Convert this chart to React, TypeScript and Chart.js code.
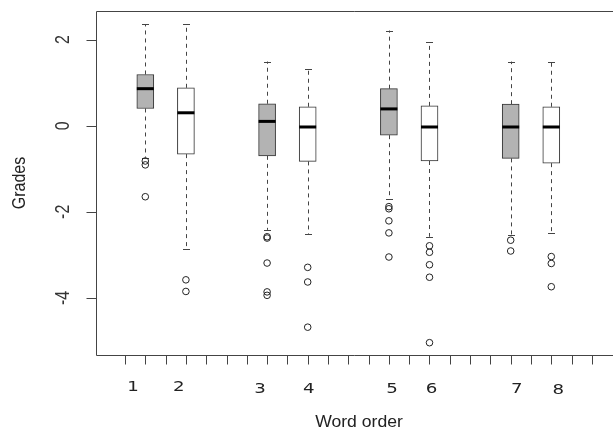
import React, { useEffect, useRef } from "react";
import { Chart, registerables } from "chart.js";

Chart.register(...registerables);

// ---- data ----
const xTickLabels = ["1", "2", "3", "4", "5", "6", "7", "8"];
const boxAt = [1, 3, 7, 9, 13, 15, 19, 21];
const whiskerHigh = [2.355, 2.355, 1.49, 1.32, 2.21, 1.94, 1.49, 1.49];
const upperQuartile = [1.19, 0.88, 0.51, 0.44, 0.86, 0.46, 0.5, 0.44];
const medians = [0.86, 0.3, 0.1, -0.03, 0.39, -0.03, -0.03, -0.03];
const lowerQuartile = [0.4, -0.66, -0.7, -0.83, -0.22, -0.82, -0.76, -0.87];
const whiskerLow = [-0.74, -2.87, -2.42, -2.52, -1.7, -2.58, -2.54, -2.5];
const outliers = [
  [-0.82, -0.91, -1.65],
  [-3.58, -3.85],
  [-2.58, -2.61, -3.19, -3.86, -3.94],
  [-3.29, -3.63, -4.68],
  [-1.88, -1.93, -2.21, -2.49, -3.05],
  [-2.79, -2.94, -3.23, -3.52, -5.04],
  [-2.66, -2.91],
  [-3.04, -3.2, -3.74],
];
const shaded = [true, false, true, false, true, false, true, false];
const yTicks = [2, 0, -2, -4];
const yTickLabels = ["2", "0", "-2", "-4"];
const xTickCount = 24;
const xTitle = "Word order";
const yTitle = "Grades";

// ---- layout / style config ----
const labelPlacement = {
  at: [0.4, 2.65, 6.65, 9.05, 13.15, 15.1, 19.3, 21.35],
  dy: [32, 32, 34, 34, 34, 34, 34, 35],
};
const BOX_W = 17;
const CAP_W = 7;
const INK = "#333";

function stretchedText(
  ctx: CanvasRenderingContext2D,
  text: string,
  cx: number,
  cy: number,
  font: string,
  sx: number,
  rot: number,
  color: string
) {
  ctx.save();
  ctx.translate(cx, cy);
  ctx.scale(sx, 1);
  if (rot) ctx.rotate(rot);
  ctx.font = font;
  ctx.fillStyle = color;
  ctx.textAlign = "center";
  ctx.textBaseline = "middle";
  ctx.fillText(text, 0, 0);
  ctx.restore();
}

const boxDecor = {
  id: "boxDecor",
  beforeDatasetsDraw(chart: any) {
    const { ctx, scales } = chart;
    const x = scales.x;
    const y = scales.y;
    ctx.save();
    ctx.strokeStyle = "#444";
    ctx.lineWidth = 1;
    boxAt.forEach((b, i) => {
      const px = Math.round(x.getPixelForValue(b)) + 0.5;
      ctx.setLineDash([4, 4]);
      ctx.beginPath();
      ctx.moveTo(px, y.getPixelForValue(upperQuartile[i]));
      ctx.lineTo(px, y.getPixelForValue(whiskerHigh[i]));
      ctx.moveTo(px, y.getPixelForValue(lowerQuartile[i]));
      ctx.lineTo(px, y.getPixelForValue(whiskerLow[i]));
      ctx.stroke();
      ctx.setLineDash([]);
      ctx.beginPath();
      const hy = Math.round(y.getPixelForValue(whiskerHigh[i])) + 0.5;
      const ly = Math.round(y.getPixelForValue(whiskerLow[i])) + 0.5;
      ctx.moveTo(px - CAP_W / 2, hy);
      ctx.lineTo(px + CAP_W / 2, hy);
      ctx.moveTo(px - CAP_W / 2, ly);
      ctx.lineTo(px + CAP_W / 2, ly);
      ctx.stroke();
    });
    ctx.restore();
  },
  afterDatasetsDraw(chart: any) {
    const { ctx, scales } = chart;
    const x = scales.x;
    const y = scales.y;
    ctx.save();
    ctx.strokeStyle = "#000";
    ctx.lineWidth = 3;
    boxAt.forEach((b, i) => {
      const px = x.getPixelForValue(b);
      const py = y.getPixelForValue(medians[i]);
      ctx.beginPath();
      ctx.moveTo(px - BOX_W / 2, py);
      ctx.lineTo(px + BOX_W / 2, py);
      ctx.stroke();
    });
    ctx.restore();
  },
  afterDraw(chart: any) {
    const { ctx, scales, chartArea, width } = chart;
    const x = scales.x;
    const y = scales.y;
    const L = chartArea.left + 0.5;
    const T = chartArea.top + 0.5;
    const B = chartArea.bottom + 0.5;
    ctx.save();
    ctx.strokeStyle = "#444";
    ctx.lineWidth = 1;
    ctx.beginPath();
    // frame (open on the right: cropped)
    ctx.moveTo(width, T);
    ctx.lineTo(L, T);
    ctx.lineTo(L, B);
    ctx.lineTo(width, B);
    // x tick marks
    for (let i = 0; i < xTickCount; i++) {
      const px = Math.round(x.getPixelForValue(i)) + 0.5;
      ctx.moveTo(px, B);
      ctx.lineTo(px, B + 9);
    }
    // y tick marks
    yTicks.forEach((v) => {
      const py = Math.round(y.getPixelForValue(v)) + 0.5;
      ctx.moveTo(L - 10, py);
      ctx.lineTo(L, py);
    });
    ctx.stroke();

    // y tick labels (rotated)
    yTicks.forEach((v, i) => {
      stretchedText(
        ctx,
        yTickLabels[i],
        63,
        y.getPixelForValue(v),
        '16px "Liberation Sans", Arial, sans-serif',
        1.3,
        -Math.PI / 2,
        INK
      );
    });
    // x labels
    xTickLabels.forEach((t, i) => {
      stretchedText(
        ctx,
        t,
        x.getPixelForValue(labelPlacement.at[i]),
        chartArea.bottom + labelPlacement.dy[i],
        '14px "DejaVu Sans", sans-serif',
        1.3,
        0,
        "#222"
      );
    });
    // titles
    stretchedText(
      ctx,
      xTitle,
      359,
      chartArea.bottom + 68,
      '16px "Liberation Sans", Arial, sans-serif',
      1.1,
      0,
      "#222"
    );
    stretchedText(
      ctx,
      yTitle,
      20,
      183,
      '16px "Liberation Sans", Arial, sans-serif',
      1.2,
      -Math.PI / 2,
      "#222"
    );
    ctx.restore();
  },
};

export default function App() {
  const ref = useRef<HTMLCanvasElement | null>(null);

  useEffect(() => {
    if (!ref.current) return;
    const boxData = boxAt.map((b, i) => ({
      x: b,
      y: [lowerQuartile[i], upperQuartile[i]],
    }));
    const outlierData = outliers.flatMap((arr, i) =>
      arr.map((v) => ({ x: boxAt[i], y: v }))
    );
    const chart = new Chart(ref.current, {
      type: "bar",
      data: {
        datasets: [
          {
            type: "bar",
            label: "boxes",
            data: boxData as any,
            backgroundColor: shaded.map((s) => (s ? "#b3b3b3" : "#ffffff")),
            borderColor: INK,
            borderWidth: 1,
            borderSkipped: false,
            barThickness: BOX_W,
          } as any,
          {
            type: "scatter",
            label: "outliers",
            data: outlierData as any,
            pointRadius: 3.3,
            pointBorderWidth: 1,
            borderColor: "#222",
            backgroundColor: "rgba(0,0,0,0)",
            showLine: false,
          } as any,
        ],
      },
      options: {
        responsive: false,
        animation: false,
        layout: { autoPadding: false, padding: { left: 96, top: 11, right: 0, bottom: 77 } },
        plugins: {
          legend: { display: false },
          tooltip: { enabled: false },
          title: { display: false },
        },
        scales: {
          x: { type: "linear", display: false, min: -1.429, max: 24.04, offset: false },
          y: { type: "linear", display: false, min: -5.326, max: 2.664 },
        },
      } as any,
      plugins: [boxDecor],
    });
    return () => chart.destroy();
  }, []);

  return (
    <div style={{ position: "absolute", left: 0, top: 0, width: 613, height: 432, background: "#fff" }}>
      <canvas ref={ref} width={613} height={432} style={{ display: "block" }} />
    </div>
  );
}
